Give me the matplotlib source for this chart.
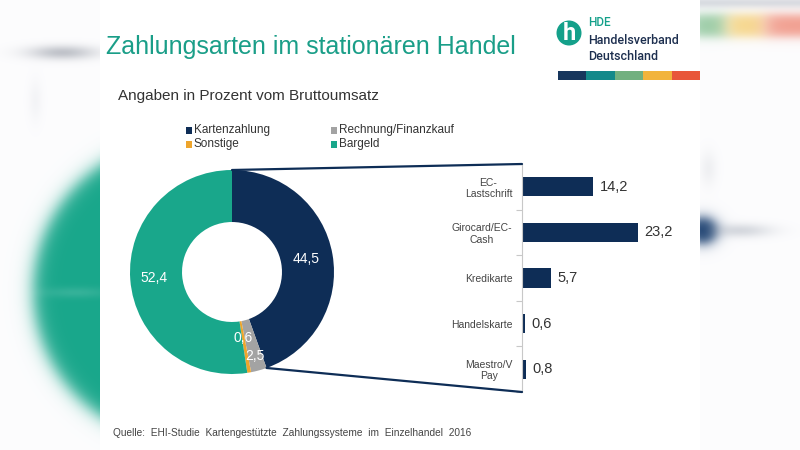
import numpy as np
import matplotlib
matplotlib.use("Agg")
import matplotlib.pyplot as plt
from matplotlib.patches import Rectangle, Circle, ConnectionPatch

# ---------------- data ----------------
donut_labels = ["Kartenzahlung", "Rechnung/Finanzkauf", "Sonstige", "Bargeld"]
donut_values = [44.5, 2.5, 0.6, 52.4]
donut_colors = ["#0e2d56", "#a3a3a3", "#eea52c", "#19a78b"]

bar_labels = ["EC-\nLastschrift", "Girocard/EC-\nCash", "Kredikarte", "Handelskarte", "Maestro/V\nPay"]
bar_values = [14.2, 23.2, 5.7, 0.6, 0.8]

title = "Zahlungsarten im stationären Handel"
subtitle = "Angaben in Prozent vom Bruttoumsatz"
source = "Quelle:  EHI-Studie  Kartengestützte  Zahlungssysteme  im  Einzelhandel  2016"
logo_colors = ["#17365d", "#13898a", "#72b07f", "#f2b43c", "#e8573a"]

plt.rcParams['font.family'] = ['Liberation Sans', 'DejaVu Sans']
fmt = lambda v: f"{v:.1f}".replace('.', ',')

W, H = 800, 450
fig = plt.figure(figsize=(8, 4.5), dpi=100)

# ---------------- blurred background ----------------
yy, xx = np.mgrid[0:H, 0:W].astype(float)
img = np.ones((H, W, 3)) * np.array([0.99, 0.99, 0.995])

def blend(img, alpha, color):
    c = np.array(matplotlib.colors.to_rgb(color))
    a = np.clip(alpha, 0, 1)[..., None]
    return img * (1 - a) + c * a

def sig(t):
    return 1 / (1 + np.exp(-t))

d = np.hypot(xx - 183, yy - 290)
img = blend(img, sig((150 - d) / 5), "#19a78b")
img = blend(img, 0.12 * np.exp(-((xx - 75) ** 2 / (2 * 25 ** 2) + (yy - 292) ** 2 / (2 * 4 ** 2))), "#ffffff")
img = blend(img, 0.7 * np.exp(-((xx - 62) ** 2 / (2 * 24 ** 2) + (yy - 52) ** 2 / (2 * 5 ** 2))), "#a7abb4")
img = blend(img, 0.35 * np.exp(-((xx - 35) ** 2 / (2 * 5 ** 2) + (yy - 100) ** 2 / (2 * 15 ** 2))), "#e3e5ea")
img = blend(img, 1.0 * sig((14 - np.hypot((xx - 702) / 1.0, (yy - 230) / 0.9)) / 4), "#1d4272")
img = blend(img, 0.35 * np.exp(-((xx - 740) ** 2 / (2 * 22 ** 2) + (yy - 230) ** 2 / (2 * 5 ** 2))), "#8f98a6")
img = blend(img, 0.25 * np.exp(-((xx - 708) ** 2 / (2 * 6 ** 2) + (yy - 168) ** 2 / (2 * 12 ** 2))), "#c9ccd2")
ybar = sig((yy - 14) / 3) - sig((yy - 36) / 3)
for x0, x1, col in [(690, 727, "#8cc59a"), (727, 765, "#f6d27c"), (765, 830, "#f09382")]:
    sx = sig((xx - x0) / 5) - sig((xx - x1) / 5)
    img = blend(img, 0.9 * ybar * sx, col)
img = blend(img, 0.3 * np.exp(-((yy - 2) ** 2) / (2 * 4 ** 2)) * (xx > 690), "#8a93a3")

bg = fig.add_axes([0, 0, 1, 1])
bg.imshow(img, extent=(0, W, H, 0), aspect='auto', interpolation='bilinear')
bg.set_xlim(0, W)
bg.set_ylim(H, 0)
bg.axis('off')
bg.add_patch(Rectangle((100, 0), 600, H, facecolor='white', edgecolor='none'))

# ---------------- texts ----------------
bg.text(106, 47, title, fontsize=18, color="#1a9e88", va='center', ha='left')
bg.text(118, 96, subtitle, fontsize=11, color="#333333", va='center', ha='left')
bg.text(113, 433, source, fontsize=7.3, color="#444444", va='center', ha='left')

# legend
leg_pos = [(186, 130), (331, 130), (186, 144), (331, 144)]
for (lx, ly), i in zip(leg_pos, [0, 1, 2, 3]):
    bg.add_patch(Rectangle((lx, ly - 3.5), 6, 7, facecolor=donut_colors[i], edgecolor='none'))
    bg.text(lx + 8, ly, donut_labels[i], fontsize=8.5, color="#333333", va='center', ha='left')

# logo
logo_font = ['Roboto', 'DejaVu Sans']
bg.add_patch(Circle((569, 33), 12.5, facecolor="#14a08a", edgecolor='none'))
bg.text(569, 34, "h", fontsize=17, color='white', fontweight='bold', ha='center', va='center',
        family=logo_font)
bg.text(588, 22, "HDE", fontsize=8.5, color="#14a08a", ha='left', va='center', family=logo_font,
        fontweight='medium')
bg.text(588, 40, "Handelsverband", fontsize=9, color="#1d2f4f", ha='left', va='center', family=logo_font,
        fontweight='medium')
bg.text(588, 57, "Deutschland", fontsize=9, color="#1d2f4f", ha='left', va='center', family=logo_font,
        fontweight='medium')
seg = (700 - 558) / len(logo_colors)
for k, c in enumerate(logo_colors):
    bg.add_patch(Rectangle((558 + k * seg, 71), seg, 9, facecolor=c, edgecolor='none'))

# ---------------- donut ----------------
cx, cy, r = 232, 272, 102
pax = fig.add_axes([(cx - r) / W, (H - cy - r) / H, 2 * r / W, 2 * r / H])
wedges, _ = pax.pie(donut_values, colors=donut_colors, startangle=90, counterclock=False,
                    radius=1, wedgeprops=dict(width=0.51, edgecolor='none'))
pax.set_xlim(-1, 1)
pax.set_ylim(-1, 1)
pax.set_aspect('auto')
pax.axis('off')
label_r = [0.74, 0.85, 0.66, 0.77]
cum = np.cumsum([0] + donut_values)
for i, v in enumerate(donut_values):
    mid = np.deg2rad(90 - 360 * (cum[i] + v / 2) / 100)
    pax.text(label_r[i] * np.cos(mid), label_r[i] * np.sin(mid), fmt(v), color='white',
             fontsize=10, ha='center', va='center')

# ---------------- bars ----------------
x0b, ytop, ybot = 522, 164, 392
bax = fig.add_axes([x0b / W, (H - ybot) / H, (700 - x0b) / W, (ybot - ytop) / H])
ypos = np.arange(len(bar_values))
bax.barh(ypos, bar_values, height=0.42, color="#0e2d56")
bax.set_xlim(0, (700 - x0b) / 5.0)
bax.set_ylim(len(bar_values) - 0.5, -0.5)
bax.set_yticks(ypos)
bax.set_yticklabels(bar_labels, fontsize=7.5, color="#444444", linespacing=1.15,
                    ha='right', multialignment='center')
bax.tick_params(axis='y', which='major', length=0, pad=7)
bax.set_yticks(np.arange(-0.5, len(bar_values)), minor=True)
bax.tick_params(axis='y', which='minor', length=4, color="#c8c8c8", width=0.8)
bax.set_xticks([])
for s in ['top', 'right', 'bottom']:
    bax.spines[s].set_visible(False)
bax.spines['left'].set_color("#c8c8c8")
bax.spines['left'].set_linewidth(0.8)
bax.patch.set_alpha(0)
for y, v in zip(ypos, bar_values):
    bax.text(v + 1.3, y, fmt(v), fontsize=10.5, color="#333333", va='center', ha='left')

# connecting lines from Kartenzahlung wedge to bar panel
a_start = np.deg2rad(90)
a_end = np.deg2rad(90 - 360 * donut_values[0] / 100)
for ang, by in [(a_start, -0.5), (a_end, len(bar_values) - 0.5)]:
    con = ConnectionPatch(xyA=(np.cos(ang), np.sin(ang)), coordsA=pax.transData,
                          xyB=(0, by), coordsB=bax.transData, color="#0e2d56", lw=1.6)
    fig.add_artist(con)

fig.savefig("out.png", dpi=100)
